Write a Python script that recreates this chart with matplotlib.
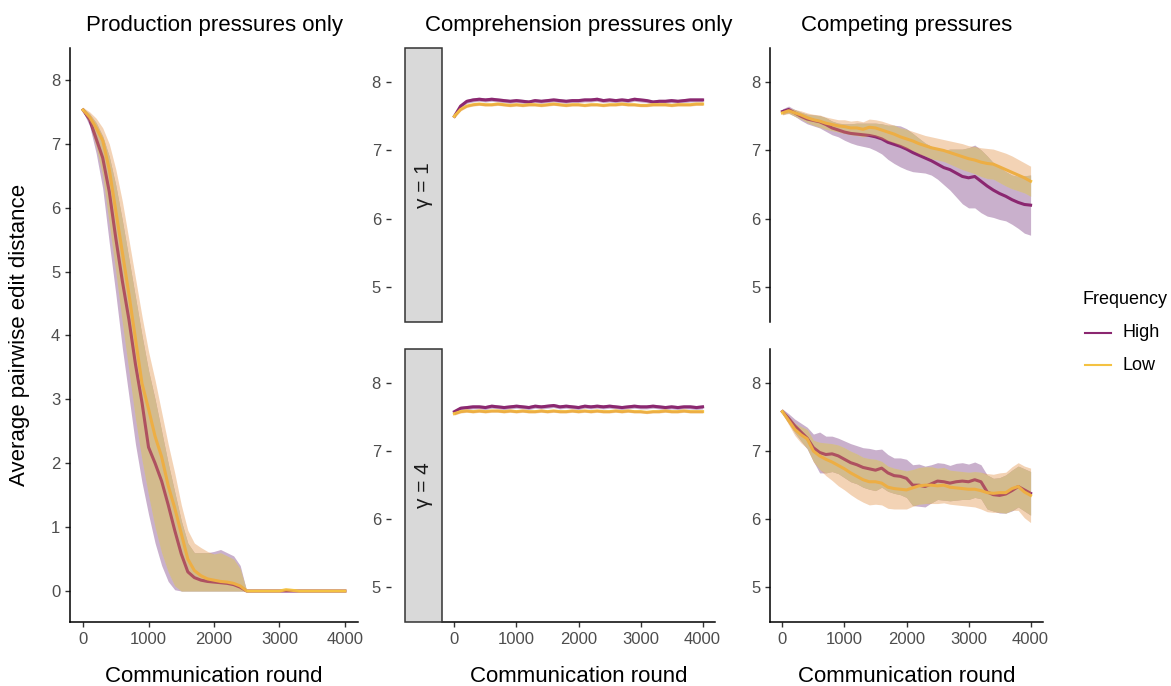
import numpy as np
import matplotlib.pyplot as plt
from matplotlib.patches import Rectangle
from matplotlib.lines import Line2D

plt.rcParams['font.family'] = ['Liberation Sans', 'DejaVu Sans']

rounds = np.arange(0, 4001, 100)

# production pressures only: means with explicit ribbon bounds
prod_high = [7.53, 7.38, 7.08, 6.78, 6.25, 5.52, 4.85, 4.25, 3.55, 2.95, 2.25, 2.0, 1.72, 1.35, 0.95,
             0.58, 0.30, 0.21, 0.17, 0.15, 0.14, 0.13, 0.12, 0.10, 0.06, 0.0,
             0, 0, 0, 0, 0, 0, 0, 0, 0, 0, 0, 0, 0, 0, 0]
prod_high_lower = [7.5, 7.28, 6.85, 6.3, 5.45, 4.65, 3.8, 3.05, 2.3, 1.7, 1.2, 0.75, 0.4, 0.15, 0.02,
                   0, 0, 0, 0, 0, 0, 0, 0, 0, 0, 0,
                   0, 0, 0, 0, 0, 0, 0, 0, 0, 0, 0, 0, 0, 0, 0]
prod_high_upper = [7.56, 7.47, 7.33, 7.12, 6.8, 6.35, 5.8, 5.2, 4.6, 4.0, 3.45, 3.0, 2.5, 2.0, 1.55,
                   1.1, 0.75, 0.6, 0.6, 0.6, 0.62, 0.65, 0.6, 0.55, 0.4, 0.0,
                   0, 0, 0, 0, 0, 0, 0, 0, 0, 0, 0, 0, 0, 0, 0]
prod_low = [7.53, 7.42, 7.25, 7.05, 6.6, 5.95, 5.3, 4.65, 3.95, 3.25, 2.85, 2.42, 2.1, 1.65, 1.3,
            0.9, 0.5, 0.32, 0.24, 0.19, 0.17, 0.15, 0.14, 0.12, 0.08, 0.0,
            0, 0, 0, 0, 0, 0.02, 0.01, 0, 0, 0, 0, 0, 0, 0, 0]
prod_low_lower = [7.5, 7.33, 6.95, 6.5, 5.75, 5.0, 4.2, 3.45, 2.7, 2.05, 1.5, 1.0, 0.6, 0.3, 0.08,
                  0, 0, 0, 0, 0, 0, 0, 0, 0, 0, 0,
                  0, 0, 0, 0, 0, 0, 0, 0, 0, 0, 0, 0, 0, 0, 0]
prod_low_upper = [7.57, 7.5, 7.4, 7.25, 7.0, 6.6, 6.1, 5.5, 4.9, 4.3, 3.75, 3.3, 2.8, 2.3, 1.85,
                  1.35, 0.95, 0.75, 0.68, 0.62, 0.58, 0.6, 0.55, 0.5, 0.35, 0.0,
                  0, 0, 0, 0, 0, 0.03, 0.02, 0, 0, 0, 0, 0, 0, 0, 0]

# comprehension pressures only, gamma = 1 and gamma = 4 (mean and spread)
comp1_high = [7.50, 7.65, 7.72, 7.74, 7.75, 7.74, 7.75, 7.74, 7.73, 7.72, 7.73, 7.72, 7.71, 7.73,
              7.72, 7.73, 7.74, 7.73, 7.72, 7.73, 7.73, 7.74, 7.74, 7.75, 7.73, 7.74, 7.73, 7.74,
              7.73, 7.75, 7.74, 7.73, 7.71, 7.72, 7.72, 7.73, 7.72, 7.73, 7.74, 7.74, 7.74]
comp1_low = [7.50, 7.60, 7.65, 7.67, 7.68, 7.67, 7.67, 7.68, 7.67, 7.66, 7.67, 7.66, 7.67, 7.67,
             7.66, 7.67, 7.68, 7.67, 7.66, 7.67, 7.67, 7.66, 7.67, 7.67, 7.66, 7.67, 7.67, 7.68,
             7.67, 7.67, 7.66, 7.66, 7.67, 7.67, 7.67, 7.66, 7.67, 7.67, 7.67, 7.68, 7.68]
comp1_high_sd = [0.02, 0.03, 0.03, 0.03, 0.03, 0.03, 0.03, 0.03, 0.03, 0.03, 0.03, 0.03, 0.03, 0.03,
                 0.03, 0.03, 0.03, 0.03, 0.03, 0.03, 0.03, 0.03, 0.03, 0.03, 0.03, 0.03, 0.03, 0.03,
                 0.03, 0.03, 0.03, 0.03, 0.03, 0.03, 0.03, 0.03, 0.03, 0.03, 0.03, 0.03, 0.03]
comp1_low_sd = [0.02, 0.02, 0.02, 0.02, 0.02, 0.02, 0.02, 0.02, 0.02, 0.02, 0.02, 0.02, 0.02, 0.02,
                0.02, 0.02, 0.02, 0.02, 0.02, 0.02, 0.02, 0.02, 0.02, 0.02, 0.02, 0.02, 0.02, 0.02,
                0.02, 0.02, 0.02, 0.02, 0.02, 0.02, 0.02, 0.02, 0.02, 0.02, 0.02, 0.02, 0.02]

comp4_high = [7.58, 7.63, 7.64, 7.65, 7.65, 7.64, 7.66, 7.65, 7.64, 7.65, 7.66, 7.65, 7.64, 7.66,
              7.65, 7.66, 7.67, 7.65, 7.66, 7.65, 7.64, 7.66, 7.65, 7.66, 7.65, 7.66, 7.65, 7.64,
              7.65, 7.66, 7.65, 7.65, 7.66, 7.65, 7.64, 7.65, 7.64, 7.65, 7.65, 7.64, 7.65]
comp4_low = [7.55, 7.58, 7.59, 7.58, 7.59, 7.58, 7.59, 7.59, 7.58, 7.59, 7.58, 7.59, 7.58, 7.58,
             7.59, 7.58, 7.59, 7.58, 7.58, 7.59, 7.58, 7.59, 7.58, 7.59, 7.58, 7.58, 7.59, 7.58,
             7.59, 7.58, 7.58, 7.57, 7.58, 7.58, 7.59, 7.58, 7.58, 7.59, 7.58, 7.58, 7.58]
comp4_high_sd = comp1_high_sd
comp4_low_sd = comp1_low_sd

# competing pressures, gamma = 1
mix1_high = [7.57, 7.60, 7.55, 7.50, 7.46, 7.44, 7.42, 7.38, 7.33, 7.30, 7.27, 7.25, 7.24, 7.23,
             7.22, 7.20, 7.17, 7.12, 7.09, 7.06, 7.02, 6.97, 6.93, 6.89, 6.85, 6.80, 6.75, 6.72,
             6.67, 6.62, 6.60, 6.62, 6.55, 6.48, 6.42, 6.37, 6.33, 6.28, 6.24, 6.21, 6.20]
mix1_low = [7.55, 7.58, 7.55, 7.52, 7.48, 7.45, 7.43, 7.40, 7.38, 7.36, 7.35, 7.33, 7.33, 7.31,
            7.34, 7.33, 7.30, 7.27, 7.24, 7.20, 7.17, 7.14, 7.10, 7.07, 7.04, 7.02, 7.00, 6.97,
            6.94, 6.91, 6.88, 6.86, 6.83, 6.81, 6.80, 6.76, 6.72, 6.68, 6.64, 6.60, 6.55]
mix1_high_sd = [0.04, 0.05, 0.05, 0.06, 0.07, 0.08, 0.09, 0.10, 0.10, 0.10, 0.12, 0.14, 0.16, 0.17,
                0.18, 0.20, 0.22, 0.25, 0.28, 0.30, 0.30, 0.28, 0.25, 0.22, 0.21, 0.22, 0.25, 0.30,
                0.35, 0.40, 0.44, 0.46, 0.46, 0.44, 0.40, 0.38, 0.36, 0.36, 0.38, 0.42, 0.44]
mix1_low_sd = [0.03, 0.04, 0.05, 0.06, 0.07, 0.08, 0.09, 0.09, 0.09, 0.09, 0.10, 0.10, 0.11, 0.11,
               0.12, 0.12, 0.13, 0.13, 0.13, 0.13, 0.14, 0.14, 0.15, 0.15, 0.16, 0.16, 0.16, 0.17,
               0.18, 0.19, 0.19, 0.20, 0.21, 0.22, 0.22, 0.23, 0.24, 0.24, 0.23, 0.22, 0.22]

# competing pressures, gamma = 4
mix4_high = [7.58, 7.48, 7.37, 7.28, 7.19, 7.05, 6.98, 6.95, 6.96, 6.93, 6.88, 6.83, 6.80, 6.76,
             6.74, 6.72, 6.75, 6.68, 6.64, 6.63, 6.60, 6.50, 6.50, 6.48, 6.52, 6.56, 6.55, 6.53,
             6.55, 6.56, 6.55, 6.58, 6.55, 6.40, 6.36, 6.35, 6.37, 6.42, 6.48, 6.43, 6.38]
mix4_low = [7.58, 7.45, 7.32, 7.24, 7.18, 7.00, 6.93, 6.88, 6.84, 6.79, 6.74, 6.68, 6.63, 6.58,
            6.55, 6.55, 6.53, 6.47, 6.45, 6.44, 6.43, 6.46, 6.49, 6.50, 6.50, 6.49, 6.50, 6.47,
            6.46, 6.45, 6.44, 6.44, 6.42, 6.39, 6.38, 6.39, 6.39, 6.45, 6.48, 6.40, 6.35]
mix4_high_sd = [0.04, 0.07, 0.10, 0.13, 0.16, 0.20, 0.30, 0.27, 0.26, 0.26, 0.27, 0.28, 0.28, 0.29,
                0.30, 0.30, 0.28, 0.27, 0.26, 0.27, 0.28, 0.30, 0.31, 0.30, 0.28, 0.27, 0.27, 0.26,
                0.27, 0.27, 0.26, 0.26, 0.25, 0.25, 0.24, 0.26, 0.28, 0.30, 0.30, 0.31, 0.32]
mix4_low_sd = [0.03, 0.06, 0.09, 0.12, 0.14, 0.16, 0.20, 0.24, 0.27, 0.30, 0.31, 0.32, 0.33, 0.33,
               0.34, 0.33, 0.32, 0.31, 0.30, 0.29, 0.28, 0.27, 0.27, 0.27, 0.27, 0.26, 0.26, 0.25,
               0.25, 0.25, 0.25, 0.26, 0.27, 0.28, 0.28, 0.29, 0.30, 0.32, 0.35, 0.38, 0.40]

high_col = "#8B2770"
low_col = "#F4C242"
high_fill = "#783a80"
low_fill = "#e39148"
both_fill = "#cad7bc"
ribbon_alpha = 0.4
legend_title = "Frequency"
legend_labels = ["High", "Low"]
gamma_labels = ["γ = 1", "γ = 4"]
col_titles = ["Production pressures only", "Comprehension pressures only", "Competing pressures"]

W, H = 1171, 686
fig = plt.figure(figsize=(W / 100, H / 100), dpi=100)


def px_axes(x0, y0, x1, y1):
    return fig.add_axes([x0 / W, 1 - y1 / H, (x1 - x0) / W, (y1 - y0) / H])


def draw_series(ax, high, high_lo, high_hi, low, low_lo, low_hi):
    high_lo, high_hi, low_lo, low_hi = map(np.asarray, (high_lo, high_hi, low_lo, low_hi))
    ax.fill_between(rounds, high_lo, high_hi, color=high_fill, alpha=ribbon_alpha, lw=0, zorder=1)
    # where the two bands overlap
    both_lo = np.maximum(high_lo, low_lo)
    both_hi = np.minimum(high_hi, low_hi)
    ax.fill_between(rounds, both_lo, both_hi, where=both_hi > both_lo, interpolate=True,
                    color=both_fill, lw=0, zorder=1.5)
    ax.plot(rounds, high, color=high_col, lw=2.2, zorder=2)
    ax.plot(rounds, low, color=low_col, lw=2.2, zorder=2)
    ax.fill_between(rounds, low_lo, low_hi, color=low_fill, alpha=ribbon_alpha, lw=0, zorder=3)


def style_axes(ax, show_x, ylim, yticks):
    ax.set_xlim(-200, 4200)
    ax.set_ylim(*ylim)
    ax.set_yticks(yticks)
    ax.set_xticks([0, 1000, 2000, 3000, 4000])
    for side in ["top", "right"]:
        ax.spines[side].set_visible(False)
    ax.spines["left"].set_linewidth(1.1)
    ax.spines["bottom"].set_linewidth(1.1)
    ax.tick_params(length=3.5, width=1.0, labelsize=12, labelcolor="#4d4d4d", color="#333333")
    if not show_x:
        ax.spines["bottom"].set_visible(False)
        ax.tick_params(axis="x", bottom=False, labelbottom=False)


def mean_sd(ax, high, high_sd, low, low_sd):
    h, hs, l, ls = map(np.array, (high, high_sd, low, low_sd))
    draw_series(ax, h, h - hs, h + hs, l, l - ls, l + ls)


# left column: one tall panel
ax = px_axes(70, 48, 358, 622)
draw_series(ax, prod_high, prod_high_lower, prod_high_upper, prod_low, prod_low_lower, prod_low_upper)
style_axes(ax, True, (-0.485, 8.5), range(0, 9))

# middle column with gamma strips on the left, right column without
rows = [(48, 322), (349, 622)]
comp_data = [(comp1_high, comp1_high_sd, comp1_low, comp1_low_sd),
             (comp4_high, comp4_high_sd, comp4_low, comp4_low_sd)]
mix_data = [(mix1_high, mix1_high_sd, mix1_low, mix1_low_sd),
            (mix4_high, mix4_high_sd, mix4_low, mix4_low_sd)]

for i, (y0, y1) in enumerate(rows):
    ax = px_axes(442, y0, 715, y1)
    mean_sd(ax, *comp_data[i])
    style_axes(ax, i == 1, (4.49, 8.5), [5, 6, 7, 8])
    ax.spines["left"].set_position(("outward", 37))
    ax.spines["left"].set_visible(False)
    fig.patches.append(Rectangle((405 / W, 1 - y1 / H), 37 / W, (y1 - y0) / H,
                                 transform=fig.transFigure, facecolor="#d9d9d9",
                                 edgecolor="#333333", lw=1.1, zorder=5))
    fig.text(423.5 / W, 1 - (y0 + y1) / 2 / H, gamma_labels[i], rotation=90,
             ha="center", va="center", fontsize=15, color="#1a1a1a", zorder=6)

    ax = px_axes(770, y0, 1043, y1)
    mean_sd(ax, *mix_data[i])
    style_axes(ax, i == 1, (4.49, 8.5), [5, 6, 7, 8])

# titles and axis labels
for cx, title in zip([214, 579, 907], col_titles):
    fig.text(cx / W, 1 - 25 / H, title, ha="center", va="center", fontsize=16)
    fig.text(cx / W, 1 - 677 / H, "Communication round", ha="center", va="center", fontsize=16)
fig.text(20 / W, 1 - 335 / H, "Average pairwise edit distance", rotation=90,
         ha="center", va="center", fontsize=16)

# legend
fig.text(1083 / W, 1 - 299 / H, legend_title, ha="left", va="center", fontsize=13)
for y, lab, col in zip([333, 365], legend_labels, [high_col, low_col]):
    fig.lines.append(Line2D([1085 / W, 1111 / W], [1 - y / H, 1 - y / H],
                            transform=fig.transFigure, color=col, lw=1.5))
    fig.text(1123 / W, 1 - y / H, lab, ha="left", va="center", fontsize=13)

plt.savefig("out.png", dpi=100)
plt.close()
